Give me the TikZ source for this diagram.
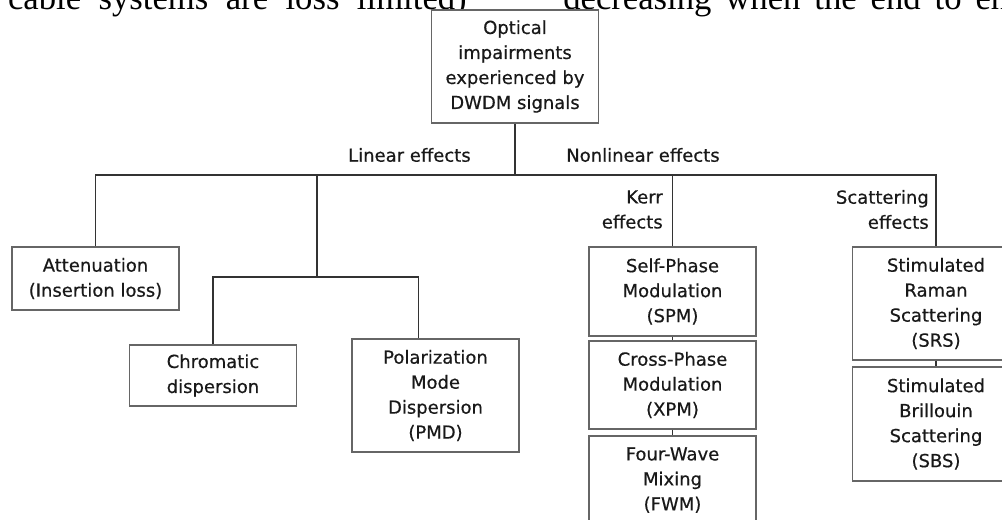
\documentclass[tikz,border=0pt]{standalone}
\usepackage{fontspec}
\setmainfont{DejaVu Sans}
\newfontfamily\diagfont{DejaVu Sans}[FakeBold=0.5]
\newfontfamily\paperfont{Liberation Serif}
\tikzset{
	effbox/.style={draw=black!60,line width=0.9pt,fill=white,align=center,inner sep=0pt,
		minimum width=125.25pt,minimum height=#1,text=black!90},
	efflabel/.style={align=#1,inner sep=0pt,text=black!90},
	branch/.style={draw=black!80,line width=1.1pt},
	paper/.style={inner sep=0pt,font=\paperfont\fontsize{26}{30}\selectfont},
}
\begin{document}
\begin{tikzpicture}[x=0.75pt,y=-0.75pt,every node/.style={font=\diagfont\fontsize{13.5}{18.75}\selectfont}]
\useasboundingbox (0,0) rectangle (1002,520);
%%% Cut-off lines of the page text above the figure
\node[paper,anchor=base east] (colleft) at (467,10) {\makebox[344pt][s]{cable systems are loss limited)}};
\node[paper,anchor=base west] (colright) at (563,10) {\makebox[333.75pt][s]{decreasing when the end to en}};
%%% Root
\node[effbox=84.75pt] (optical) at (515,66.5) {Optical\\impairments\\experienced by\\DWDM signals};
%%% Linear effects
\node[effbox=47.25pt] (atten) at (95.5,278.5) {Attenuation\\(Insertion loss)};
\node[effbox=45.75pt] (chrom) at (213,375.5) {Chromatic\\dispersion};
\node[effbox=84.75pt] (pmd) at (435.5,395.5) {Polarization\\Mode\\Dispersion\\(PMD)};
%%% Nonlinear effects
\node[effbox=66.75pt] (spm) at (672.5,291.5) {Self-Phase\\Modulation\\(SPM)};
\node[effbox=66pt] (xpm) at (672.5,385) {Cross-Phase\\Modulation\\(XPM)};
\node[effbox=66pt] (fwm) at (672.5,480) {Four-Wave\\Mixing\\(FWM)};
\node[effbox=84.75pt] (srs) at (936,303.5) {Stimulated\\Raman\\Scattering\\(SRS)};
\node[effbox=85.5pt] (sbs) at (936,424) {Stimulated\\Brillouin\\Scattering\\(SBS)};
%%% Branch labels
\node[efflabel=center,anchor=east] (linear) at (471,155) {Linear effects};
\node[efflabel=center,anchor=west] (nonlinear) at (566,155) {Nonlinear effects};
\node[efflabel=right,anchor=east] (kerr) at (663,209.5) {Kerr\\effects};
\node[efflabel=right,anchor=east] (scatter) at (929,209.5) {Scattering\\effects};
%%% Tree lines
\coordinate (bus) at (515,175);
\coordinate (linbus) at (317,277);
\draw[branch] (optical.south) -- (bus);
\draw[branch] (atten.north) |- (bus) -| (srs.north);
\draw[branch] (spm.north) -- (spm.north |- bus);
\draw[branch] (bus -| linbus) -- (linbus);
\draw[branch] (chrom.north) |- (linbus) -| ([xshift=50.25pt]pmd.north west);
\draw[branch] (spm.south) -- (xpm.north);
\draw[branch] (xpm.south) -- (fwm.north);
\draw[branch] (srs.south) -- (sbs.north);
\end{tikzpicture}
\end{document}
